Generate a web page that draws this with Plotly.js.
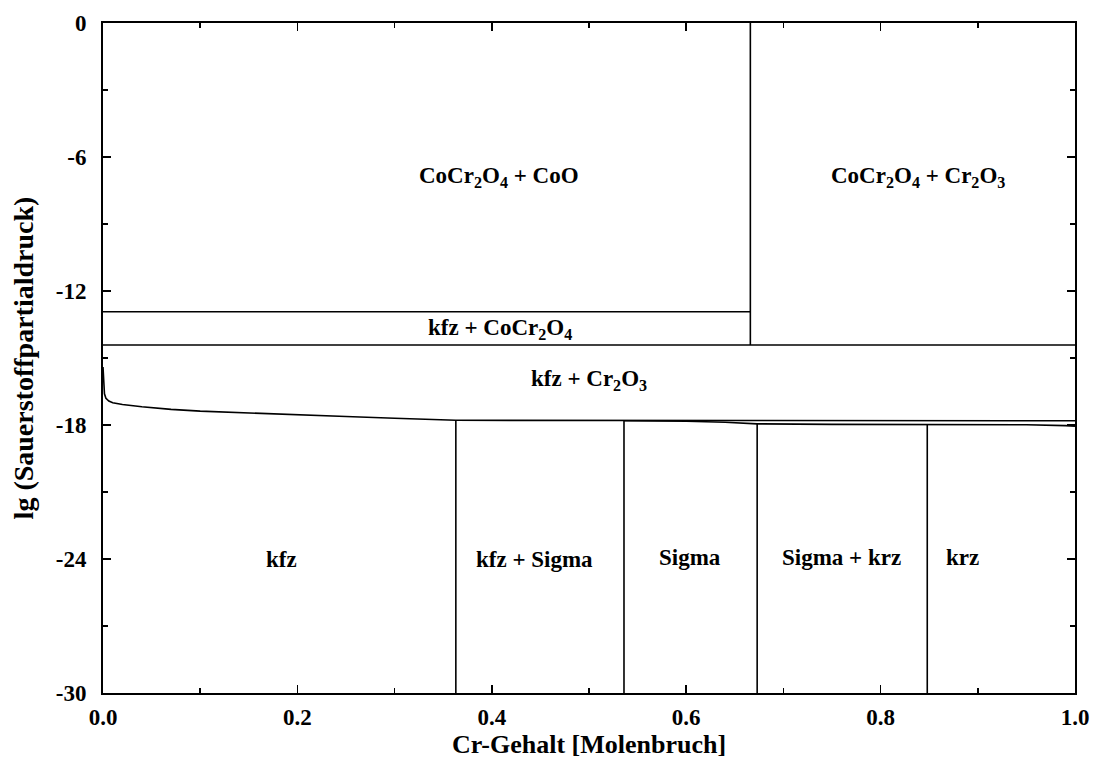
<!DOCTYPE html>
<html><head><meta charset="utf-8">
<script src="https://cdn.plot.ly/plotly-3.0.1.min.js"></script>
<style>body{margin:0;background:#fff}#chart{width:1093px;height:760px}</style>
</head><body><div id="chart"></div>
<script>
// Phase boundaries (x = Cr mole fraction, y = lg pO2)
const boundaryKfzCr2O3_x = [0, 0.0005, 0.0015, 0.003, 0.006, 0.01, 0.015, 0.02, 0.04, 0.07, 0.1, 0.15, 0.2, 0.25, 0.3, 0.34, 0.363, 1.0];
const boundaryKfzCr2O3_y = [-15.4, -16.2, -16.6, -16.8, -16.93, -17.0, -17.05, -17.08, -17.18, -17.3, -17.38, -17.47, -17.55, -17.62, -17.7, -17.76, -17.79, -17.81];
const boundaryLower_x = [0.536, 0.6, 0.64, 0.673, 0.75, 0.848, 0.95, 0.99, 1.0];
const boundaryLower_y = [-17.81, -17.83, -17.88, -17.95, -17.97, -17.98, -17.99, -18.03, -18.05];
const topDivider_x = [0.666, 0.666];
const topDivider_y = [0, -14.42];
const lineKfzCoCr2O4_x = [0, 0.666];
const lineKfzCoCr2O4_y = [-12.93, -12.93];
const lineKfzCr2O3Top_x = [0, 1.0];
const lineKfzCr2O3Top_y = [-14.42, -14.42];
const verticals_x = [0.363, 0.536, 0.673, 0.848];
const verticals_ytop = [-17.79, -17.81, -17.95, -17.98];
const yBottom = -30;

const xTickVals = [0, 0.2, 0.4, 0.6, 0.8, 1.0];
const xTickText = ["0.0", "0.2", "0.4", "0.6", "0.8", "1.0"];
const yTickVals = [0, -6, -12, -18, -24, -30];
const yTickText = ["0", "-6", "-12", "-18", "-24", "-30"];

const labels = ["CoCr<sub>2</sub>O<sub>4</sub> + CoO", "CoCr<sub>2</sub>O<sub>4</sub> + Cr<sub>2</sub>O<sub>3</sub>", "kfz + CoCr<sub>2</sub>O<sub>4</sub>", "kfz + Cr<sub>2</sub>O<sub>3</sub>", "kfz", "kfz + Sigma", "Sigma", "Sigma + krz", "krz"];
const labels_x = [0.407, 0.838, 0.408, 0.50, 0.184, 0.444, 0.604, 0.760, 0.884];
const labels_y = [-6.9, -6.9, -13.7, -16.0, -24.0, -24.0, -23.95, -23.95, -23.95];

const lineStyle = {color: '#000', width: 1.6};
const traces = [];
function seg(x, y){ traces.push({x: x, y: y, type: 'scatter', mode: 'lines', line: lineStyle, showlegend: false, hoverinfo: 'skip'}); }
seg(boundaryKfzCr2O3_x, boundaryKfzCr2O3_y);
seg(boundaryLower_x, boundaryLower_y);
seg(topDivider_x, topDivider_y);
seg(lineKfzCoCr2O4_x, lineKfzCoCr2O4_y);
seg(lineKfzCr2O3Top_x, lineKfzCr2O3Top_y);
verticals_x.forEach((vx, i) => seg([vx, vx], [yBottom, verticals_ytop[i]]));

const fontFam = 'Liberation Serif, Times New Roman, serif';
const annotations = labels.map((t, i) => ({x: labels_x[i], y: labels_y[i], text: '<b>' + t + '</b>', showarrow: false, font: {family: fontFam, size: 23, color: '#000'}, xanchor: 'center', yanchor: 'middle'}));

const layout = {
  width: 1093, height: 760,
  margin: {l: 103, r: 18, t: 23, b: 67},
  paper_bgcolor: '#fff', plot_bgcolor: '#fff',
  showlegend: false, hovermode: false,
  font: {family: fontFam, color: '#000'},
  xaxis: {
    range: [0, 1], tickvals: xTickVals, ticktext: xTickText.map(s => '<b>' + s + '</b>'),
    ticks: 'inside', ticklen: 8, tickwidth: 1.5, tickcolor: '#000',
    minor: {tickvals: [0.1, 0.3, 0.5, 0.7, 0.9], ticks: 'inside', ticklen: 5, tickwidth: 1.5, tickcolor: '#000'},
    showline: true, linewidth: 2, linecolor: '#000', mirror: 'ticks',
    showgrid: false, zeroline: false, ticklabelstandoff: 2,
    tickfont: {family: fontFam, size: 23, color: '#000'},
    title: {text: '<b>Cr-Gehalt [Molenbruch]</b>', font: {family: fontFam, size: 26, color: '#000'}, standoff: 2}
  },
  yaxis: {
    range: [-30, 0], tickvals: yTickVals, ticktext: yTickText.map(s => '<b>' + s + '</b>'),
    ticks: 'inside', ticklen: 8, tickwidth: 1.5, tickcolor: '#000',
    minor: {tickvals: [-3, -9, -15, -21, -27], ticks: 'inside', ticklen: 5, tickwidth: 1.5, tickcolor: '#000'},
    showline: true, linewidth: 2, linecolor: '#000', mirror: 'ticks',
    showgrid: false, zeroline: false, ticklabelstandoff: 10,
    tickfont: {family: fontFam, size: 23, color: '#000'},
    title: {text: '<b>lg (Sauerstoffpartialdruck)</b>', font: {family: fontFam, size: 28, color: '#000'}, standoff: 14}
  },
  annotations: annotations
};
Plotly.newPlot('chart', traces, layout, {displayModeBar: false, staticPlot: true});
</script></body></html>
